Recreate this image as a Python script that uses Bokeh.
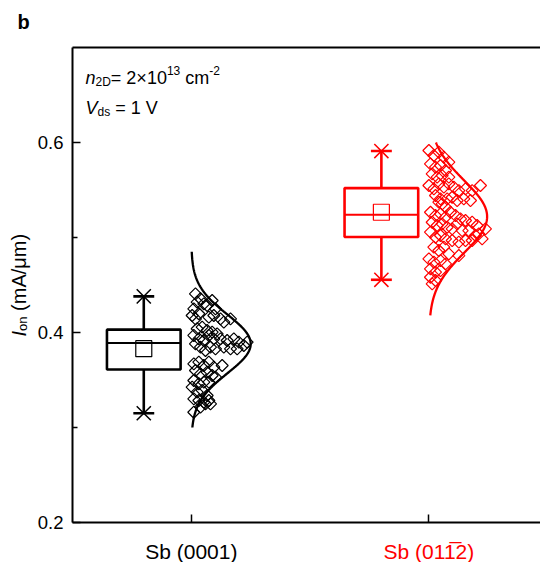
import numpy as np
from bokeh.plotting import figure
from bokeh.models import Range1d, LinearAxis, FixedTicker, Label, PrintfTickFormatter
from bokeh.embed import file_html
from bokeh.resources import INLINE

# ---------------- data ----------------
categories = ["Sb (0001)", "Sb (011\u03052)"]
cat_pos = [1, 2]
colors = ["#000000", "#FF0000"]
y_ticks = [0.2, 0.4, 0.6]
y_minor = [0.3, 0.5]

whisker_low = [0.315, 0.4555]
q1 = [0.361, 0.5005]
median = [0.389, 0.524]
q3 = [0.403, 0.552]
whisker_high = [0.438, 0.591]
mean = [0.383, 0.5266]

fit_mu = [0.388, 0.522]
fit_sd = [0.031, 0.038]
fit_peak = [0.25, 0.245]
fit_lo = [0.300, 0.418]
fit_hi = [0.485, 0.600]

g1_dx = [0.0176, 0.0387, 0.0247, 0.0527, 0.0667, 0.0878, 0.1018, 0.0106, 0.0317, 0.0036,
         0.0176, 0.0738, 0.0948, 0.1229, 0.165, 0.1369, 0.0247, 0.0457, 0.0667, 0.0878,
         0.1088, 0.0106, 0.0317, 0.0527, 0.0738, 0.0948, 0.1229, 0.1509, 0.179, 0.2,
         0.221, 0.0176, 0.0387, 0.0597, 0.0808, 0.1018, 0.1369, 0.165, 0.193, 0.235,
         0.0106, 0.0317, 0.0527, 0.0738, 0.0948, 0.1299, 0.0176, 0.0387, 0.0667, 0.0878,
         0.0106, 0.0317, 0.0527, 0.0738, 0.1018, 0.0036, 0.0247, 0.0457, 0.0667, 0.0106,
         0.0317, 0.0527, 0.0738, 0.0387, 0.0597, 0.0808, 0.0106]
g1_y = [0.4407, 0.4355, 0.432, 0.4302, 0.4284, 0.4337, 0.4249, 0.4249, 0.4197, 0.4179,
        0.4144, 0.4162, 0.4179, 0.4144, 0.4144, 0.4109, 0.4039, 0.4056, 0.4021, 0.4004,
        0.3986, 0.3969, 0.3933, 0.3916, 0.3969, 0.3933, 0.3933, 0.3916, 0.3933, 0.3898,
        0.3863, 0.3881, 0.3846, 0.3811, 0.3846, 0.3828, 0.3846, 0.3828, 0.3828, 0.3898,
        0.367, 0.3688, 0.3653, 0.3688, 0.3635, 0.3653, 0.36, 0.3565, 0.3583, 0.3547,
        0.3495, 0.346, 0.3477, 0.3477, 0.353, 0.3425, 0.3372, 0.339, 0.3337, 0.3302,
        0.3284, 0.3267, 0.3284, 0.3214, 0.3249, 0.3249, 0.3161]

g2_dx = [0.0, 0.0208, 0.0418, 0.0629, 0.0839, 0.0067, 0.0278, 0.0488, 0.0699, 0.0138,
         0.0348, 0.0558, 0.0839, 0.0, 0.0208, 0.0418, 0.0629, 0.0839, 0.1049, 0.126,
         0.154, 0.182, 0.217, 0.0278, 0.0488, 0.0418, 0.0558, 0.0769, 0.0979, 0.119,
         0.147, 0.175, 0.0699, 0.0067, 0.0278, 0.0488, 0.0699, 0.0909, 0.112, 0.133,
         0.154, 0.182, 0.203, 0.238, 0.0138, 0.0348, 0.0558, 0.0769, 0.0979, 0.119,
         0.14, 0.168, 0.196, 0.224, 0.0067, 0.0278, 0.0488, 0.0699, 0.0979, 0.126,
         0.154, 0.182, 0.21, 0.0208, 0.0418, 0.0629, 0.0839, 0.126, 0.0, 0.0208,
         0.0488, 0.0699, 0.0067, 0.0278, 0.0488, 0.0067, 0.0278, 0.0138]
g2_y = [0.5916, 0.5863, 0.5898, 0.5846, 0.5793, 0.5775, 0.574, 0.5758, 0.5705, 0.567,
        0.5635, 0.5652, 0.5635, 0.5547, 0.5512, 0.5565, 0.553, 0.5565, 0.553, 0.5494,
        0.5512, 0.5494, 0.5547, 0.5442, 0.5407, 0.5372, 0.5354, 0.5407, 0.5424, 0.5389,
        0.5407, 0.5389, 0.5319, 0.5266, 0.5231, 0.5249, 0.5214, 0.5266, 0.5231, 0.5196,
        0.5179, 0.5161, 0.5126, 0.5091, 0.5161, 0.5126, 0.5144, 0.5108, 0.5091, 0.5144,
        0.5073, 0.5073, 0.5021, 0.4986, 0.5056, 0.5003, 0.5021, 0.4986, 0.4968, 0.4951,
        0.4968, 0.4968, 0.5038, 0.4898, 0.4863, 0.4898, 0.4828, 0.481, 0.4775, 0.474,
        0.4757, 0.4722, 0.467, 0.4635, 0.4652, 0.4582, 0.4547, 0.4512]

# ---------------- figure ----------------
FONT = "Liberation Sans"
W, H = 540, 562
FL, FT, FB = 72, 47, 522          # axes-box pixel edges (left, top, bottom)
X0, XR = 0.5, 2.4697              # data x at axes left edge / at canvas right edge
Y0, Y1 = 0.2, 0.7                 # data y at axes bottom / top
kx = (XR - X0) / (W - FL)
ky = (Y1 - Y0) / (FB - FT)
x_range = Range1d(X0 - FL * kx, XR)
y_range = Range1d(Y0 - (H - FB) * ky, Y1 + FT * ky)

p = figure(width=W, height=H, x_range=x_range, y_range=y_range,
           x_axis_type=None, y_axis_type=None, output_backend="svg", toolbar_location=None,
           min_border_left=0, min_border_right=0, min_border_top=0, min_border_bottom=0)
p.outline_line_color = None
p.background_fill_color = "white"
p.border_fill_color = "white"

def style_axis(ax):
    ax.axis_line_width = 2
    ax.axis_line_color = "black"
    ax.major_tick_line_width = 1.5
    ax.minor_tick_line_width = 1.5
    ax.major_tick_in = 8
    ax.major_tick_out = 0
    ax.minor_tick_in = 5
    ax.minor_tick_out = 0
    ax.major_label_text_font = FONT
    ax.major_label_text_font_size = "18.5px"
    ax.major_label_text_color = "black"

yax = LinearAxis(ticker=FixedTicker(ticks=y_ticks, minor_ticks=y_minor),
                 formatter=PrintfTickFormatter(format="%.1f"),
                 fixed_location=X0, bounds=(Y0, Y1))
style_axis(yax)
yax.major_label_standoff = 9
p.add_layout(yax, "left")

xax = LinearAxis(ticker=FixedTicker(ticks=cat_pos, minor_ticks=[]),
                 major_label_overrides={1: "", 2: ""},
                 fixed_location=Y0, bounds=(X0, XR))
style_axis(xax)
p.add_layout(xax, "below")

tax = LinearAxis(ticker=FixedTicker(ticks=[], minor_ticks=[]),
                 fixed_location=Y1, bounds=(X0, XR))
style_axis(tax)
p.add_layout(tax, "above")

# ---------------- boxes ----------------
box_shift = -0.2
box_half = 0.155
cap_half = 0.044
for i, c in enumerate(colors):
    bx = cat_pos[i] + box_shift
    p.quad(left=[bx - box_half], right=[bx + box_half], bottom=[q1[i]], top=[q3[i]],
           fill_color=None, line_color=c, line_width=2.6)
    p.segment(x0=[bx - box_half], x1=[bx + box_half], y0=[median[i]], y1=[median[i]],
              line_color=c, line_width=2)
    p.segment(x0=[bx, bx], x1=[bx, bx], y0=[q3[i], q1[i]], y1=[whisker_high[i], whisker_low[i]],
              line_color=c, line_width=2.6)
    p.segment(x0=[bx - cap_half] * 2, x1=[bx + cap_half] * 2,
              y0=[whisker_high[i], whisker_low[i]], y1=[whisker_high[i], whisker_low[i]],
              line_color=c, line_width=2.6)
    p.scatter(x=[bx, bx], y=[whisker_high[i], whisker_low[i]], marker="x", size=20,
              line_color=c, line_width=1.5)
    p.scatter(x=[bx], y=[mean[i]], marker="square", size=16, fill_color=None,
              line_color=c, line_width=1.2)

# ---------------- scatter + fitted normal ----------------
for i, (dx, yy) in enumerate([(g1_dx, g1_y), (g2_dx, g2_y)]):
    c = colors[i]
    xs = [cat_pos[i] + d for d in dx]
    p.scatter(x=xs, y=yy, marker="square", size=8.5, angle=np.pi / 4, fill_color=None,
              line_color=c, line_width=1.2)
    ys = np.linspace(fit_lo[i], fit_hi[i], 200)
    cx = cat_pos[i] + fit_peak[i] * np.exp(-(ys - fit_mu[i]) ** 2 / (2 * fit_sd[i] ** 2))
    p.line(x=cx, y=ys, line_color=c, line_width=2.3)

# ---------------- text ----------------
ADV = {"n": .556, "o": .556, "m": .833, "c": .5, " ": .278, "=": .584, "2": .556, "\u00d7": .584,
       "1": .556, "0": .556, "3": .556, "-": .333, "(": .333, ")": .333, "A": .667, "/": .278,
       "\u03bc": .576, "V": .667, "s": .5, "d": .556, "D": .722, "I": .278}
FIX = 6  # renderer places the alphabetic baseline this much lower than requested

def tw(s, size):
    return sum(ADV.get(ch, 0.556) for ch in s) * size

def put(text, px, py, size, style="normal", color="black"):
    # px, py: canvas pixel position of the baseline start
    p.add_layout(Label(x=X0, y=Y1, x_units="data", y_units="data", x_offset=px - FL,
                       y_offset=FT - (py - FIX), text=text, text_font=FONT,
                       text_font_size=f"{size}px", text_font_style=style, text_color=color,
                       text_align="left", text_baseline="alphabetic"))

def put_line(pieces, px, py):
    for text, size, style, dy, gap in pieces:
        px += gap * size * ADV[" "]
        put(text, px, py - dy, size, style)
        px += tw(text, size)

put("b", 17, 27, 20, style="bold")
put_line([("n", 18, "italic", 0, 0), ("2D", 12, "normal", -4, 0), ("= 2\u00d710", 18, "normal", 0, 0),
          ("13", 12, "normal", 7, 0), ("cm", 18, "normal", 0, 1), ("-2", 12, "normal", 7, 0)], 85, 83)
put_line([("V", 18, "italic", 0, 0), ("ds", 12, "normal", -4, 0), ("= 1 V", 18, "normal", 0, 1)], 85, 113)

# y-axis label (rotated, reads bottom to top)
ymid_px = (FT + FB) / 2
ymid = (Y0 + Y1) / 2
start = 336
for text, size, style, dx, gap in [("I", 20, "italic", 0, 0), ("on", 13, "normal", 4, 0),
                                   ("(mA/\u03bcm)", 20, "normal", 0, 1)]:
    start -= gap * size * ADV[" "]
    p.add_layout(Label(x=X0, y=ymid, x_units="data", y_units="data",
                       x_offset=24 - FIX + dx - FL, y_offset=ymid_px - start, text=text,
                       text_font=FONT, text_font_size=f"{size}px", text_font_style=style,
                       angle=np.pi / 2, text_color="black", text_align="left",
                       text_baseline="alphabetic"))
    start -= tw(text, size)

# category labels under the ticks
for i, name in enumerate(categories):
    p.add_layout(Label(x=cat_pos[i], y=Y0, x_units="data", y_units="data",
                       y_offset=-(35 - FIX), text=name, text_font=FONT,
                       text_font_size="21px", text_color=colors[i],
                       text_align="center", text_baseline="alphabetic"))

open("out.html", "w").write(file_html(p, INLINE))
